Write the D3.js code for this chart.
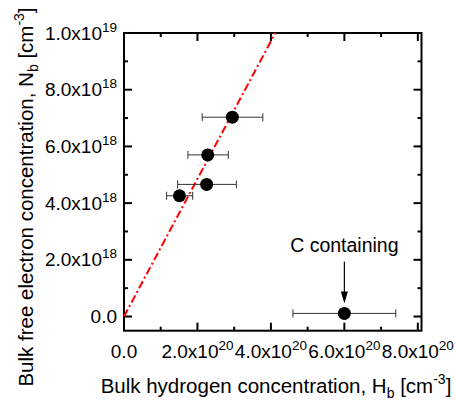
<!DOCTYPE html>
<html>
<head>
<meta charset="utf-8">
<script src="https://cdn.jsdelivr.net/npm/d3@7"></script>
<style>
  body { margin: 0; background: #fff; }
  text { font-family: "Liberation Sans", Arial, sans-serif; fill: #000; }
</style>
</head>
<body>
<div id="chart"></div>
<script>
// datos
const hydrogen = [2.95e20, 2.28e20, 2.25e20, 1.51e20, 6.0e20];
const hydrogenLow = [2.13e20, 1.74e20, 1.46e20, 1.16e20, 4.6e20];
const hydrogenHigh = [3.78e20, 2.84e20, 3.06e20, 1.87e20, 7.4e20];
const electrons = [7.03e18, 5.7e18, 4.66e18, 4.26e18, 0.11e18];
const fitX = [0, 4.12e20];
const fitY = [0, 1.0e19];
const xTicks = [0, 2e20, 4e20, 6e20, 8e20];
const yTicks = [0, 2e18, 4e18, 6e18, 8e18, 1e19];
const annotation = 'C containing';

const W = 455, H = 410;
let margin = {top: 33, right: 33.5, bottom: 79.3, left: 124},
    width = W - margin.left - margin.right,
    height = H - margin.top - margin.bottom;

let svg = d3.select('#chart').append('svg')
    .attr('width', W).attr('height', H);
let g = svg.append('g')
    .attr('transform', 'translate(' + margin.left + ',' + margin.top + ')');

let x = d3.scaleLinear().domain([0, 8.1e20]).range([0, width]);
let y = d3.scaleLinear().domain([-0.5e18, 1e19]).range([height, 0]);

// etiqueta con superíndice
function sciLabel(sel, v) {
    if (v === 0) { sel.text('0.0'); return; }
    let e = Math.floor(Math.log10(v));
    let m = v / Math.pow(10, e);
    sel.append('tspan').text(m.toFixed(1) + 'x10');
    sel.append('tspan').attr('dy', -8).attr('font-size', 13.5).text(e);
}

let xMinor = d3.range(1e20, 8.01e20, 2e20);
let yMinor = d3.range(1e18, 9.01e18, 2e18);

// ticks hacia dentro, en los cuatro lados
function ticks(vals, len) {
    vals.forEach(function(v) {
        g.append('line').attr('x1', x(v)).attr('x2', x(v)).attr('y1', height).attr('y2', height - len)
            .attr('stroke', '#000').attr('stroke-width', 2);
        g.append('line').attr('x1', x(v)).attr('x2', x(v)).attr('y1', 0).attr('y2', len)
            .attr('stroke', '#000').attr('stroke-width', 2);
    });
}
function yticks(vals, len) {
    vals.forEach(function(v) {
        g.append('line').attr('y1', y(v)).attr('y2', y(v)).attr('x1', 0).attr('x2', len)
            .attr('stroke', '#000').attr('stroke-width', 2);
        g.append('line').attr('y1', y(v)).attr('y2', y(v)).attr('x1', width).attr('x2', width - len)
            .attr('stroke', '#000').attr('stroke-width', 2);
    });
}
ticks(xTicks, 8); ticks(xMinor, 4);
yticks(yTicks, 8); yticks(yMinor, 4);

g.selectAll('.xlab').data(xTicks).enter().append('text')
    .attr('class', 'xlab')
    .attr('x', function(d) { return x(d); })
    .attr('y', height + 27)
    .attr('text-anchor', 'middle')
    .attr('font-size', 19)
    .each(function(d) { sciLabel(d3.select(this), d); });

g.selectAll('.ylab').data(yTicks).enter().append('text')
    .attr('class', 'ylab')
    .attr('x', -7)
    .attr('y', function(d) { return y(d) + 6.5; })
    .attr('text-anchor', 'end')
    .attr('font-size', 19)
    .each(function(d) { sciLabel(d3.select(this), d); });

// marco
g.append('rect').attr('width', width).attr('height', height)
    .attr('fill', 'none').attr('stroke', '#000').attr('stroke-width', 2);

// recta de ajuste
g.append('line')
    .attr('x1', x(fitX[0])).attr('y1', y(fitY[0]))
    .attr('x2', x(fitX[1])).attr('y2', y(fitY[1]))
    .attr('stroke', '#f00').attr('stroke-width', 2)
    .attr('stroke-dasharray', '8,3,2,3');

// barras de error
hydrogen.forEach(function(d, i) {
    let yy = y(electrons[i]);
    g.append('line').attr('x1', x(hydrogenLow[i])).attr('x2', x(hydrogenHigh[i]))
        .attr('y1', yy).attr('y2', yy).attr('stroke', '#333').attr('stroke-width', 1);
    [hydrogenLow[i], hydrogenHigh[i]].forEach(function(v) {
        g.append('line').attr('x1', x(v)).attr('x2', x(v))
            .attr('y1', yy - 4).attr('y2', yy + 4).attr('stroke', '#333').attr('stroke-width', 1);
    });
});

g.selectAll('circle').data(hydrogen).enter().append('circle')
    .attr('cx', function(d) { return x(d); })
    .attr('cy', function(d, i) { return y(electrons[i]); })
    .attr('r', 6.5)
    .attr('fill', '#000');

// anotación
let ax = x(hydrogen[4]), ay = y(electrons[4]);
g.append('text').attr('x', ax).attr('y', ay - 61)
    .attr('text-anchor', 'middle').attr('font-size', 19.5).text(annotation);
g.append('line').attr('x1', ax).attr('x2', ax).attr('y1', ay - 52).attr('y2', ay - 20)
    .attr('stroke', '#000').attr('stroke-width', 1.2);
g.append('path')
    .attr('d', 'M' + (ax - 3.5) + ',' + (ay - 22) + 'L' + (ax + 3.5) + ',' + (ay - 22) + 'L' + ax + ',' + (ay - 10) + 'Z')
    .attr('fill', '#000');

// títulos de ejes
let xt = svg.append('text').attr('x', 276).attr('y', 393)
    .attr('text-anchor', 'middle').attr('font-size', 20.5);
xt.append('tspan').text('Bulk hydrogen concentration, H');
xt.append('tspan').attr('dy', 5).attr('font-size', 14).text('b');
xt.append('tspan').attr('dy', -5).text(' [cm');
xt.append('tspan').attr('dy', -9).attr('font-size', 14).text('-3');
xt.append('tspan').attr('dy', 9).text(']');

let yt = svg.append('text')
    .attr('transform', 'translate(33,197) rotate(-90)')
    .attr('text-anchor', 'middle').attr('font-size', 20.5);
yt.append('tspan').text('Bulk free electron concentration, N');
yt.append('tspan').attr('dy', 5).attr('font-size', 14).text('b');
yt.append('tspan').attr('dy', -5).text(' [cm');
yt.append('tspan').attr('dy', -9).attr('font-size', 14).text('-3');
yt.append('tspan').attr('dy', 9).text(']');
</script>
</body>
</html>
